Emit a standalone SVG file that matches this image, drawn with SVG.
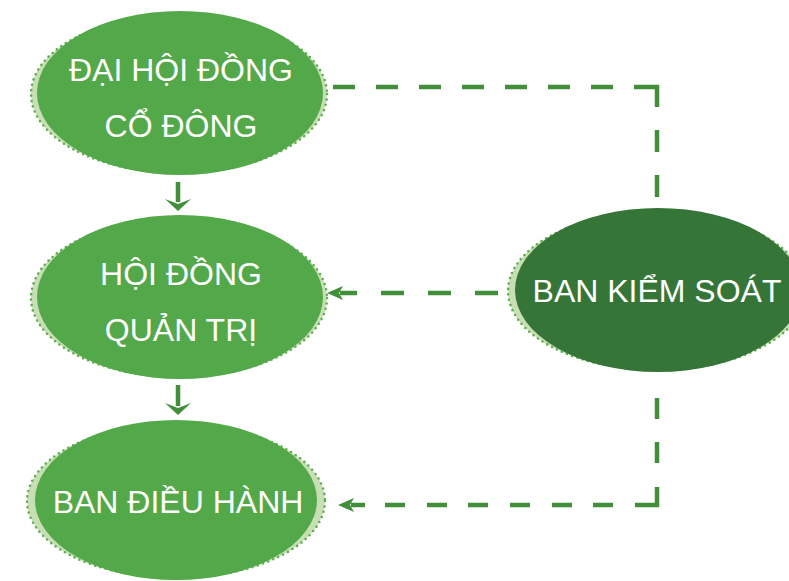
<svg xmlns="http://www.w3.org/2000/svg" width="789" height="581" viewBox="0 0 789 581">
<style>
.halo{fill:#c8dfb5;stroke:#5fae4f;stroke-width:2.6;stroke-dasharray:0 5.5;stroke-linecap:round}
.main{fill:#53a849}
.dark{fill:#367538}
.lbl{font-family:"Liberation Sans",Arial,sans-serif;font-size:32px;fill:#ffffff;text-anchor:middle}
.con{fill:none;stroke:#428f3b;stroke-width:4.5}
.head{fill:#428f3b}
</style>
<defs>
<marker id="ah" viewBox="0 0 16 14" refX="3" refY="7" markerWidth="16" markerHeight="14" markerUnits="userSpaceOnUse" orient="auto">
<path d="M16,7 L0,0 L4,7 L0,14 Z" class="head"/>
</marker>
</defs>
<g id="connectors">
<path class="con" d="M333,87 H657 V197" stroke-dasharray="22 21 22 21 22 21 22 21 22 21 22 21 22 21 43 23 22 23 22"/>
<path class="con" d="M498,293 H340" stroke-dasharray="23 24" marker-end="url(#ah)"/>
<path class="con" d="M657,398 V505 H351" stroke-dasharray="21 23 21 24 40 22 20 21 20 22 20 22 20 21 20 22 20 20 18" marker-end="url(#ah)"/>
<path class="con" d="M178,182 V202"/>
<path class="head" d="M178,211 L165,199 L178,204 L191,199 Z"/>
<path class="con" d="M178,385 V406"/>
<path class="head" d="M178,415 L165,403 L178,408 L191,403 Z"/>
</g>
<g id="n1">
<ellipse class="halo" cx="179" cy="94" rx="148" ry="79"/>
<ellipse class="main" cx="180" cy="93" rx="143" ry="82"/>
<text class="lbl" x="181" y="81">ĐẠI HỘI ĐỒNG</text>
<text class="lbl" x="181" y="137">CỔ ĐÔNG</text>
</g>
<g id="n2">
<ellipse class="halo" cx="179" cy="298" rx="148" ry="79"/>
<ellipse class="main" cx="180" cy="297" rx="143" ry="82"/>
<text class="lbl" x="181" y="285">HỘI ĐỒNG</text>
<text class="lbl" x="181" y="341">QUẢN TRỊ</text>
</g>
<g id="n3">
<ellipse class="halo" cx="176" cy="501" rx="149" ry="77"/>
<ellipse class="main" cx="176" cy="500" rx="141" ry="80"/>
<text class="lbl" x="178" y="513">BAN ĐIỀU HÀNH</text>
</g>
<g id="n4">
<ellipse class="halo" cx="657" cy="291" rx="149" ry="79"/>
<ellipse class="dark" cx="658" cy="290" rx="143" ry="82"/>
<text class="lbl" x="657" y="302">BAN KIỂM SOÁT</text>
</g>
</svg>
